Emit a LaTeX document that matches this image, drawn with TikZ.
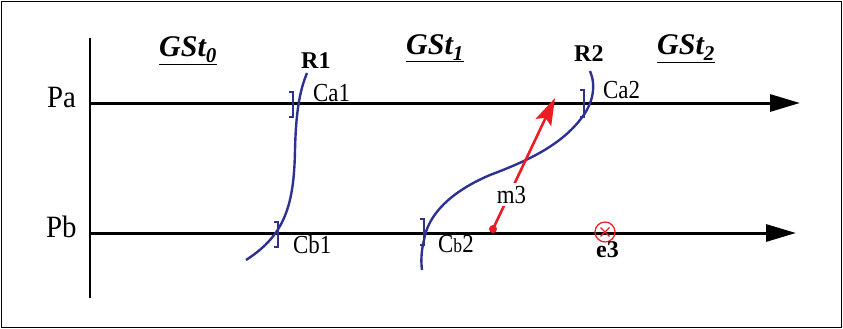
\documentclass[tikz,border=0pt]{standalone}
\usepackage{fontspec}
\setmainfont{Liberation Serif}
\usetikzlibrary{arrows.meta, calc, positioning}
\definecolor{rsBlue}{HTML}{2E3192}
\definecolor{rsRed}{HTML}{ED1C24}
\newcommand{\fsz}[1]{\fontsize{#1}{#1}\selectfont}
\newcommand{\nrw}[1]{\scalebox{0.88}[1]{#1}}
\tikzset{
  procline/.style = {-{Triangle[length=30pt, width=17pt]}, line width=3pt, black},
  axisline/.style = {line width=2.6pt, black},
  cutline/.style  = {rsBlue, line width=2.4pt},
  ckpt/.style     = {rsBlue, line width=1.4pt},
  msgline/.style  = {rsRed, line width=2.6pt, -{Stealth[length=27pt, width=17pt, inset=5pt]}},
  lbl/.style      = {inner sep=0pt, font=\fsz{26}},
  plbl/.style     = {inner sep=0pt, font=\fsz{31}},
  gslbl/.style    = {inner sep=0pt, font=\fsz{30}\bfseries\itshape},
  blbl/.style     = {inner sep=0pt, font=\fsz{24}\bfseries},
}

\begin{document}
\begin{tikzpicture}[x=1pt, y=-1pt]
  \useasboundingbox (0,0) rectangle (843,329);
  \draw[line width=1.6pt] (1.5,1.5) rectangle (841.5,327.5);
  % time axis and the two processes
  \coordinate (axtop) at (90,38);
  \coordinate (axbot) at (90,298);
  \coordinate (pastart) at (90,103);
  \coordinate (paend) at (800,103);
  \coordinate (pbstart) at (90,233);
  \coordinate (pbend) at (796,233);
  \draw[axisline] (axtop) -- (axbot);
  \draw[procline] (pastart) -- (paend);
  \draw[procline] (pbstart) -- (pbend);
  \node[plbl, anchor=base west] (pa) at (47,107) {\scalebox{0.93}[1]{Pa}};
  \node[plbl, anchor=base west] (pb) at (46,237) {\scalebox{0.93}[1]{Pb}};
  % global states
  \node[gslbl, anchor=base west] (gs0) at (159,57) {\underline{GSt\textsubscript{0}}};
  \node[gslbl, anchor=base west] (gs1) at (406,55) {\underline{GSt\textsubscript{1}}};
  \node[gslbl, anchor=base west] (gs2) at (657,55) {\underline{GSt\textsubscript{2}}};
  % recovery lines
  \draw[cutline] (307,73) .. controls (300,90) and (296,110) .. (295,150)
                 .. controls (294,205) and (285,235) .. (246,260);
  \draw[cutline] (590,71) .. controls (596,85) and (594,103) .. (580,120)
                 .. controls (560,145) and (530,160) .. (490,175)
                 .. controls (450,192) and (428,215) .. (424,240)
                 .. controls (421,252) and (421,262) .. (422,270);
  \node[blbl, anchor=base west] (r1) at (301,68) {R1};
  \node[blbl, anchor=base west] (r2) at (574,62) {R2};
  % checkpoints
  \foreach \bx/\bt/\bb in {293/92/117, 278/222/247, 424/219/245, 584/90/117} {
    \draw[ckpt] (\bx-4,\bt) -- (\bx,\bt) -- (\bx,\bb) -- (\bx-4,\bb);
  }
  \node[lbl, anchor=base west] (ca1) at (313,101) {\nrw{Ca1}};
  \node[lbl, anchor=base west] (ca2) at (603,98) {\nrw{Ca2}};
  \node[lbl, anchor=base west] (cb1) at (293,253) {\nrw{Cb1}};
  \node[lbl, anchor=base west] (cb2) at (438,252) {\nrw{C{\fsz{20}b}2}};
  % message m3 and event e3
  \node[circle, fill=rsRed, inner sep=0pt, minimum size=8pt] (m3s) at (493,229) {};
  \coordinate (m3e) at (555,98);
  \draw[msgline] (m3s.center) -- (m3e);
  \node[lbl, anchor=base, fill=white, inner sep=3pt] (m3) at (511.5,203) {\nrw{m3}};
  \node[circle, draw=rsRed, line width=1.2pt, inner sep=0pt, minimum size=20pt] (e3x) at (605,232) {};
  \draw[rsRed, line width=1.2pt] ($(e3x.center)!0.6!(e3x.north west)$) -- ($(e3x.center)!0.6!(e3x.south east)$);
  \draw[rsRed, line width=1.2pt] ($(e3x.center)!0.6!(e3x.north east)$) -- ($(e3x.center)!0.6!(e3x.south west)$);
  \node[blbl, anchor=base west] (e3) at (596,257) {e3};
\end{tikzpicture}
\end{document}
